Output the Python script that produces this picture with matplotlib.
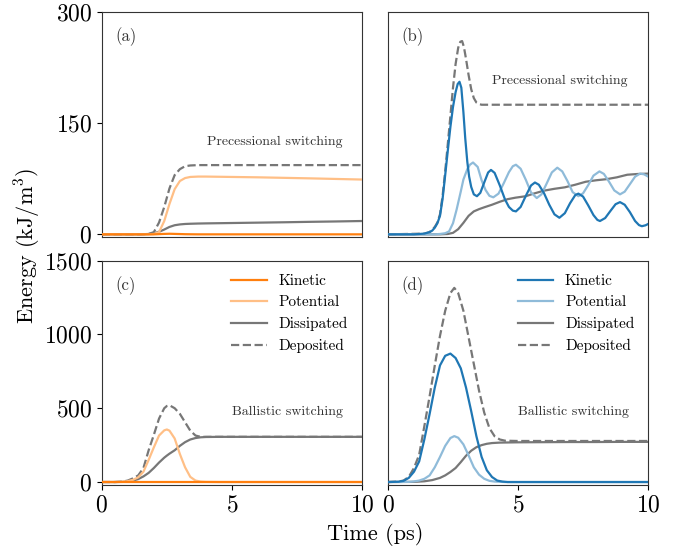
import matplotlib
matplotlib.use("Agg")
import numpy as np
from matplotlib import pyplot as plt

plt.rcParams['font.family'] = 'serif'
plt.rcParams['font.serif'] = ['cmr10']
plt.rcParams['mathtext.fontset'] = 'cm'
plt.rcParams['axes.formatter.use_mathtext'] = True

# (a) precessional switching, orange set
t_a = [0, 1.5, 1.8, 2.0, 2.2, 2.4, 2.6, 2.8, 3.0, 3.2, 3.4, 3.7, 4.0, 5, 6, 7, 8, 9, 10]
kin_a = [0, 0, 0, 0, 0.3, 0.6, 0.8, 0.6, 0.4, 0.2, 0.1, 0, 0, 0, 0, 0, 0, 0, 0]
pot_a = [0, 0, 0, 0.5, 3, 18, 41, 61, 72, 76, 77.5, 78, 78, 77.5, 77, 76.3, 75.6, 74.8, 74]
dis_a = [0, 0, 0.5, 1.5, 3.5, 6.5, 10, 12.3, 13.4, 14, 14.3, 14.6, 14.8, 15.3, 15.8, 16.3, 16.9, 17.4, 18]
dep_a = [0, 0, 0.5, 3, 16, 37, 62, 80, 88, 92, 93, 93.5, 93.5, 93.5, 93.5, 93.5, 93.5, 93.5, 93.5]

# (b) precessional switching, blue set
t_kb = [0, 1.0, 1.4, 1.6, 1.7, 1.8, 1.9, 2.0, 2.1, 2.2, 2.3, 2.4, 2.5, 2.6, 2.68, 2.75, 2.82,
        2.9, 2.97, 3.05, 3.12, 3.2, 3.3, 3.42, 3.55, 3.7,
        3.85, 3.96, 4.1, 4.3, 4.5, 4.65, 4.8, 4.92, 5.1, 5.3, 5.5, 5.65, 5.8, 6.0, 6.2, 6.4,
        6.59, 6.8, 7.0, 7.2, 7.32, 7.5, 7.7, 7.9, 8.05, 8.15, 8.35, 8.55, 8.75, 8.92, 9.1,
        9.3, 9.5, 9.65, 9.76, 9.9, 10]
kin_b = [0, 0, 1, 3, 5, 9, 15, 25, 48, 80, 113, 145, 172, 192, 203, 206, 198,
         165, 130, 98, 78, 64, 54, 51.5, 56, 70,
         83.5, 87, 83, 66, 47, 37, 32, 31, 37, 52, 66, 70, 67, 55.5, 40, 27,
         22.4, 28.6, 42, 53, 55, 51, 39, 26, 19.5, 18, 22, 31.5, 40.7, 43.5, 40,
         30, 18, 12.5, 11, 12.2, 14]
t_pb = [0, 1.8, 2.0, 2.2, 2.35, 2.5, 2.64, 2.8, 2.9, 3.05, 3.15, 3.27, 3.45, 3.6, 3.75, 3.9,
        4.05, 4.25, 4.45, 4.65, 4.8, 4.92, 5.1, 5.3, 5.5, 5.72, 5.9, 6.1, 6.3, 6.51, 6.7,
        6.9, 7.1, 7.32, 7.5, 7.7, 7.9, 8.13, 8.3, 8.5, 8.7, 8.92, 9.1, 9.3, 9.5, 9.69,
        9.85, 10]
pot_b = [0, 0, 0.5, 1.5, 4, 15, 33.6, 58, 74, 88, 94, 97, 91, 73, 60, 52,
         50, 55, 69, 84, 92, 94, 88.6, 73.6, 56.6, 49, 54, 68.6, 83.6, 90, 85,
         72, 57, 51.5, 55.4, 66.6, 79.3, 85, 81.6, 71, 59.3, 54, 57.6, 67.7, 77.9, 82,
         81, 78]
t_db = [0, 2.0, 2.3, 2.5, 2.7, 2.9, 3.1, 3.3, 3.5, 3.7, 4.0, 4.3, 4.6, 4.9, 5.3, 5.6, 6.0,
        6.4, 6.8, 7.2, 7.6, 8.0, 8.4, 8.8, 9.2, 9.6, 10]
dis_b = [0, 0, 0.5, 2, 7, 15.5, 25, 31, 34, 36.5, 40, 44, 47.5, 49.5, 51.5, 55, 59,
         61.5, 63.5, 67, 71, 73, 74.5, 77, 80.5, 81.5, 82]
t_eb = [0, 1.4, 1.6, 1.8, 1.9, 2.0, 2.1, 2.2, 2.3, 2.4, 2.5, 2.6, 2.7, 2.78, 2.85, 2.92, 3.0,
        3.1, 3.2, 3.3, 3.4, 3.5, 3.6, 4, 5, 6, 7, 8, 9, 10]
dep_b = [0, 1, 3, 10, 16, 27, 52, 85, 122, 160, 198, 230, 252, 260, 261, 253, 237,
         215, 196, 184, 178, 176, 175, 175, 175, 175, 175, 175, 175, 175]

# (c) ballistic switching, orange set
t_c = [0, 0.5, 0.8, 1.0, 1.2, 1.4, 1.6, 1.8, 2.0, 2.2, 2.4, 2.5, 2.6, 2.8, 3.0, 3.2, 3.4, 3.6,
       3.8, 4.0, 4.5, 5, 6, 7, 8, 9, 10]
kin_c = [0] * len(t_c)
pot_c = [0, 0, 2, 6, 15, 32, 70, 150, 235, 315, 350, 356, 348, 295, 190, 100, 35, 10,
         3, 1, 0, 0, 0, 0, 0, 0, 0]
dis_c = [0, 0, 1, 4, 10, 20, 38, 62, 95, 132, 165, 179, 192, 215, 245, 270, 288, 298,
         303, 305, 306, 306, 306, 306, 306, 306, 306]
dep_c = [0, 0, 3, 10, 25, 45, 95, 215, 320, 430, 500, 515, 520, 500, 462, 405, 348, 315,
         306, 306, 306, 306, 306, 306, 306, 306, 306]

# (d) ballistic switching, blue set
t_kd = [0, 0.4, 0.6, 0.8, 1.0, 1.2, 1.4, 1.6, 1.8, 2.0, 2.2, 2.4, 2.6, 2.8, 3.0, 3.2, 3.4,
        3.6, 3.8, 4.0, 4.2, 4.4, 4.6, 10]
kin_d = [0, 2, 8, 28, 70, 140, 290, 460, 640, 790, 855, 870, 840, 770, 640, 480, 310,
         170, 80, 34, 10, 3, 0, 0]
t_pd = [0, 0.8, 1.0, 1.2, 1.4, 1.6, 1.8, 2.0, 2.2, 2.4, 2.55, 2.7, 2.9, 3.1, 3.3, 3.5, 3.7,
        3.9, 4.1, 4.5, 10]
pot_d = [0, 1, 4, 10, 22, 45, 100, 170, 245, 298, 311, 300, 255, 180, 100, 50, 22,
         8, 3, 0, 0]
t_dd = [0, 1.0, 1.4, 1.7, 2.0, 2.2, 2.4, 2.6, 2.8, 3.0, 3.2, 3.4, 3.6, 3.8, 4.0, 4.3, 5,
        6, 7, 8, 9, 10]
dis_d = [0, 1, 5, 13, 28, 45, 68, 95, 135, 178, 212, 236, 250, 259, 264, 267, 269,
         270, 271, 271, 272, 272]
t_ed = [0, 0.4, 0.6, 0.8, 1.0, 1.2, 1.4, 1.6, 1.8, 2.0, 2.2, 2.4, 2.55, 2.7, 2.9, 3.1, 3.3,
        3.5, 3.7, 3.9, 4.1, 4.3, 4.5, 5, 6, 7, 8, 9, 10]
dep_d = [0, 3, 10, 35, 95, 185, 380, 580, 790, 990, 1160, 1280, 1315, 1280, 1160, 980, 800,
         620, 470, 365, 310, 288, 280, 278, 278, 278, 278, 278, 278]

labels = ['Kinetic', 'Potential', 'Dissipated', 'Deposited']
orange = ['#ff7f0e', '#ffbf86', '#777777', '#777777']
blue = ['#1f77b4', '#8fbbd9', '#777777', '#777777']
styles = ['-', '-', '-', '--']

fig, axes = plt.subplots(2, 2, figsize=(6.88, 5.53), dpi=100)
fig.subplots_adjust(left=0.148, right=0.942, top=0.978, bottom=0.123,
                    wspace=0.1, hspace=0.107)

panels = [
    (axes[0, 0], [(t_a, kin_a), (t_a, pot_a), (t_a, dis_a), (t_a, dep_a)], orange, '(a)', 'Precessional switching', (4.03, 125)),
    (axes[0, 1], [(t_kb, kin_b), (t_pb, pot_b), (t_db, dis_b), (t_eb, dep_b)], blue, '(b)', 'Precessional switching', (3.99, 207)),
    (axes[1, 0], [(t_c, kin_c), (t_c, pot_c), (t_c, dis_c), (t_c, dep_c)], orange, '(c)', 'Ballistic switching', (4.99, 475)),
    (axes[1, 1], [(t_kd, kin_d), (t_pd, pot_d), (t_dd, dis_d), (t_ed, dep_d)], blue, '(d)', 'Ballistic switching', (4.99, 475)),
]

for ax, series, cols, tag, note, pos in panels:
    # deposited/dissipated underneath, kinetic on top
    for i in [3, 2, 1, 0]:
        tt, vv = series[i]
        ax.plot(tt, vv, color=cols[i], ls=styles[i], lw=1.6, label=labels[i], zorder=5 - i)
    ax.text(0.053, 0.89, tag, transform=ax.transAxes, fontsize=12, color='0.2', va='center')
    ax.text(pos[0], pos[1], note, fontsize=10, color='0.2', va='center')
    ax.set_xlim(0, 10)
    ax.tick_params(labelsize=17)
    for s in ax.spines.values():
        s.set_color('0.2')

for ax in axes[0]:
    ax.set_ylim(-3, 300)
    ax.set_yticks([0, 150, 300])
    ax.tick_params(bottom=False, labelbottom=False)
for ax in axes[1]:
    ax.set_ylim(-20, 1500)
    ax.set_yticks([0, 500, 1000, 1500])
    ax.set_xticks([0, 5, 10])
for ax in axes[:, 1]:
    ax.tick_params(left=False, labelleft=False)

for ax in axes[1]:
    h, l = ax.get_legend_handles_labels()
    order = [l.index(x) for x in labels]
    ax.legend([h[k] for k in order], labels, loc='upper right', frameon=False,
              fontsize=11, handlelength=2.3)

fig.text(0.04, 0.556, r'Energy (kJ/m$^3$)', rotation=90, fontsize=16, ha='center', va='center')
fig.text(0.545, 0.033, 'Time (ps)', fontsize=16, ha='center', va='center')

fig.savefig('out.png', dpi=100)
